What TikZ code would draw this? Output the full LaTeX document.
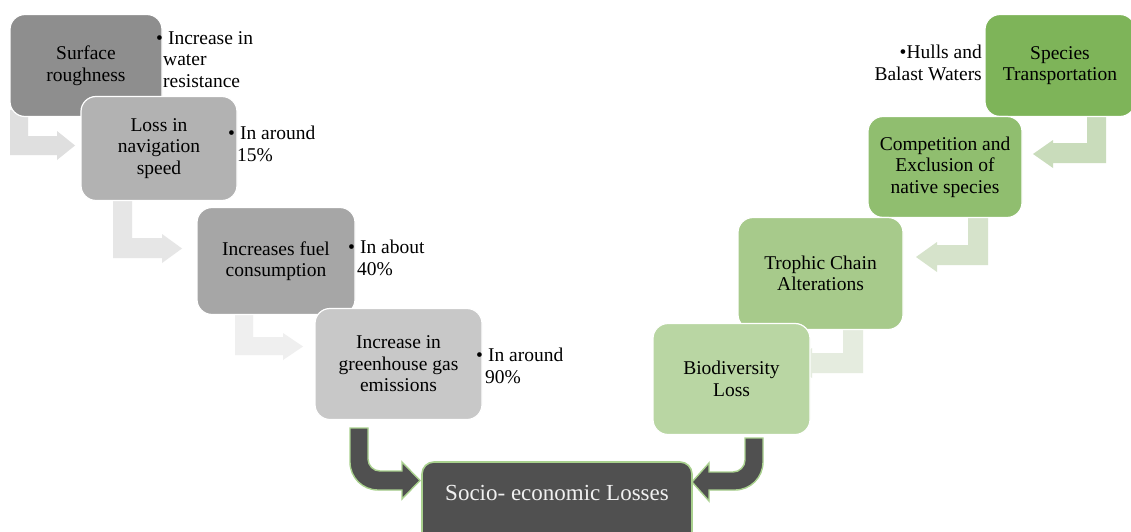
\documentclass[tikz,border=0pt]{standalone}
\usepackage{fontspec}
\setmainfont{Liberation Serif}
\definecolor{gA}{HTML}{8E8E8E}
\definecolor{gB}{HTML}{B2B2B2}
\definecolor{gC}{HTML}{A6A6A6}
\definecolor{gD}{HTML}{C8C8C8}
\definecolor{vA}{HTML}{7EB459}
\definecolor{vB}{HTML}{90BE6F}
\definecolor{vC}{HTML}{A7CA8B}
\definecolor{vD}{HTML}{B9D6A3}
\definecolor{agA}{HTML}{DFDFDF}
\definecolor{agB}{HTML}{E6E6E6}
\definecolor{agC}{HTML}{EFEFEF}
\definecolor{avA}{HTML}{C9DCBB}
\definecolor{avB}{HTML}{D6E3CB}
\definecolor{avC}{HTML}{E5ECDF}
\definecolor{dark}{HTML}{505050}
\definecolor{edge}{HTML}{A9D18E}
\tikzset{
  box/.style={draw=white, line width=1.2pt, rounded corners=15pt, inner sep=0pt,
    align=center, font=\fontsize{19.5}{21.5}\selectfont, text=black},
  bul/.style={inner sep=0pt, align=left, font=\fontsize{19.5}{21.5}\selectfont, text=black},
  barrow/.style={draw=edge, line width=1.4pt, fill=dark, line join=miter},
}
\begin{document}
\begin{tikzpicture}[x=1pt,y=-1pt]
\useasboundingbox[fill=white] (0,0) rectangle (1131,532);
% light bent arrows (left)
\fill[agA] (10,110) -- (10,155) -- (57,155) -- (57,160) -- (75,145.5) -- (57,131) -- (57,136) -- (28,136) -- (28,110) -- cycle;
\fill[agB] (113,195) -- (113,258) -- (162,258) -- (162,263) -- (182,248.5) -- (162,234) -- (162,238) -- (132,238) -- (132,195) -- cycle;
\fill[agC] (235,305) -- (235,355) -- (283,355) -- (283,360) -- (303,346.5) -- (283,333) -- (283,337) -- (253,337) -- (253,305) -- cycle;
% light bent arrows (right)
\fill[avA] (1106,105) -- (1106,163) -- (1053,163) -- (1053,168) -- (1033,154) -- (1053,140) -- (1053,143) -- (1087,143) -- (1087,105) -- cycle;
\fill[avB] (988,206) -- (988,265) -- (937,265) -- (937,272) -- (916,257) -- (937,242) -- (937,245) -- (968,245) -- (968,206) -- cycle;
\fill[avC] (863,313) -- (863,373) -- (812,373) -- (812,378) -- (792,363) -- (812,348) -- (812,353) -- (843,353) -- (843,313) -- cycle;
% left chain boxes
\node[box, fill=gA, minimum width=152pt, minimum height=102pt] (surf) at (86,65.5) {Surface\\roughness};
\node[box, fill=gB, minimum width=156pt, minimum height=104pt] (loss) at (159,148.5) {Loss in\\navigation\\speed};
\node[box, fill=gC, minimum width=158pt, minimum height=107pt] (fuel) at (276,261) {Increases fuel\\consumption};
\node[box, fill=gD, minimum width=167pt, minimum height=111pt] (ghg) at (398.5,364) {Increase in\\greenhouse gas\\emissions};
% right chain boxes
\node[box, fill=vA, minimum width=150pt, minimum height=102pt] (spec) at (1060,65.5) {Species\\Transportation};
\node[box, fill=vB, minimum width=154pt, minimum height=101pt] (comp) at (945,167) {Competition and\\Exclusion of\\native species};
\node[box, fill=vC, minimum width=165pt, minimum height=112pt] (troph) at (820.5,273.5) {Trophic Chain\\Alterations};
\node[box, fill=vD, minimum width=157pt, minimum height=111pt] (bio) at (731.5,379) {Biodiversity\\Loss};
% bullet notes
\node[bul, anchor=north west] (n1) at (156,31) {•\hspace{5pt}Increase in\\\hspace*{7pt}water\\\hspace*{7pt}resistance};
\node[bul, anchor=north west] (n2) at (228,126) {•\hspace{5pt}In around\\\hspace*{9pt}15\%};
\node[bul, anchor=north west] (n3) at (348,240) {•\hspace{5pt}In about\\\hspace*{9pt}40\%};
\node[bul, anchor=north west] (n4) at (476,348) {•\hspace{5pt}In around\\\hspace*{9pt}90\%};
\node[bul, anchor=north east, align=right] (n5) at (982,45) {•Hulls and\\Balast Waters};
% bottom box
\node[draw=edge, line width=1.6pt, fill=dark, rounded corners=12pt, minimum width=270pt, minimum height=86pt, inner sep=0pt] (socio) at (557,505) {};
\node[inner sep=0pt, text=white!94!black, font=\fontsize{23}{26}\selectfont] (sociot) at (557,493) {Socio- economic Losses};
% dark bent arrows
\draw[barrow] (350,428) -- (350,462) .. controls (350,477.5) and (362.5,490) .. (378,490) -- (402,490) -- (402,499) -- (420,480.5) -- (402,462) -- (402,471) -- (380,471) .. controls (373.4,471) and (368,465.6) .. (368,459) -- (368,428) -- cycle;
\draw[barrow] (763,438) -- (763,462) .. controls (763,477.5) and (750.5,490) .. (735,490) -- (709,490) -- (709,501) -- (692,482) -- (709,463) -- (709,472) -- (733,472) .. controls (739.6,472) and (745,466.6) .. (745,460) -- (745,438) -- cycle;
\end{tikzpicture}
\end{document}
